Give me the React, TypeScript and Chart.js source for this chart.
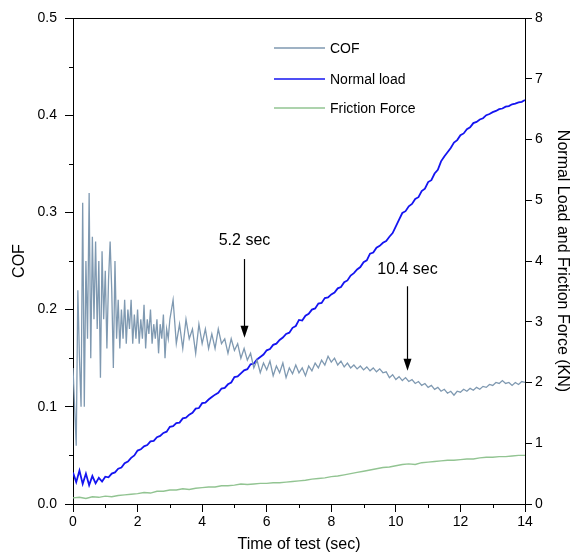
import React, { useEffect, useRef } from "react";
import { Chart, registerables } from "chart.js";

Chart.register(...registerables);

// ---- Data ----
// COF, 0.00 s to 2.95 s every 0.05 s
const cofEarlyStart = 0;
const cofEarlyStep = 0.05;
const cofEarly = [
  0.14, 0.10, 0.06, 0.22, 0.15, 0.10, 0.31, 0.10, 0.25, 0.17,
  0.32, 0.15, 0.275, 0.19, 0.27, 0.18, 0.25, 0.13, 0.26, 0.19,
  0.24, 0.16, 0.23, 0.27, 0.22, 0.14, 0.25, 0.17, 0.21, 0.16,
  0.20, 0.17, 0.21, 0.165, 0.20, 0.18, 0.21, 0.165, 0.195, 0.17,
  0.20, 0.165, 0.19, 0.17, 0.205, 0.16, 0.19, 0.175, 0.20, 0.165,
  0.185, 0.17, 0.19, 0.155, 0.185, 0.17, 0.195, 0.15, 0.18, 0.17,
];
// COF, 3.0 s to 14.0 s every 0.1 s
const cofLateStart = 3.0;
const cofLateStep = 0.1;
const cofLate = [
  0.19, 0.21, 0.165, 0.185, 0.16, 0.19, 0.17, 0.18, 0.155, 0.185,
  0.165, 0.18, 0.16, 0.175, 0.16, 0.18, 0.165, 0.17, 0.155, 0.17,
  0.158, 0.165, 0.15, 0.16, 0.148, 0.155, 0.14, 0.148, 0.135, 0.145,
  0.138, 0.147, 0.132, 0.142, 0.135, 0.145, 0.13, 0.14, 0.134, 0.143,
  0.135, 0.14, 0.132, 0.142, 0.137, 0.145, 0.14, 0.148, 0.143, 0.152,
  0.146, 0.15, 0.143, 0.147, 0.141, 0.145, 0.14, 0.143, 0.139, 0.142,
  0.138, 0.141, 0.137, 0.14, 0.136, 0.139, 0.135, 0.136, 0.13, 0.133,
  0.128, 0.131, 0.127, 0.13, 0.126, 0.128, 0.124, 0.126, 0.122, 0.124,
  0.12, 0.122, 0.118, 0.12, 0.116, 0.118, 0.114, 0.116, 0.112, 0.116,
  0.115, 0.118, 0.116, 0.119, 0.117, 0.12, 0.118, 0.121, 0.12, 0.123,
  0.122, 0.125, 0.124, 0.127, 0.124, 0.125, 0.122, 0.125, 0.123, 0.126,
  0.125,
];
// Normal load (KN), 0 s to 14 s every 0.1 s
const loadStart = 0;
const loadStep = 0.1;
const normalLoad = [
  0.52, 0.36, 0.55, 0.33, 0.5, 0.31, 0.46, 0.34, 0.43, 0.37, 0.45,
  0.44, 0.5, 0.52, 0.58, 0.6, 0.67, 0.7, 0.76, 0.8, 0.88,
  0.9, 0.95, 0.97, 1.03, 1.04, 1.1, 1.12, 1.17, 1.19, 1.27,
  1.28, 1.33, 1.34, 1.41, 1.42, 1.47, 1.5, 1.57, 1.58, 1.66,
  1.67, 1.72, 1.76, 1.8, 1.83, 1.9, 1.91, 1.97, 2.0, 2.09,
  2.1, 2.15, 2.2, 2.22, 2.3, 2.31, 2.38, 2.42, 2.46, 2.53,
  2.55, 2.62, 2.64, 2.7, 2.74, 2.8, 2.82, 2.9, 2.93, 3.03,
  3.02, 3.1, 3.13, 3.2, 3.22, 3.3, 3.31, 3.39, 3.4, 3.45,
  3.48, 3.55, 3.57, 3.65, 3.68, 3.76, 3.8, 3.86, 3.9, 3.98,
  4.01, 4.12, 4.14, 4.22, 4.25, 4.3, 4.33, 4.4, 4.46, 4.57,
  4.68, 4.79, 4.82, 4.9, 4.94, 5.02, 5.05, 5.15, 5.19, 5.3,
  5.33, 5.44, 5.5, 5.64, 5.72, 5.79, 5.86, 5.95, 5.99, 6.07,
  6.1, 6.17, 6.2, 6.27, 6.29, 6.33, 6.35, 6.4, 6.42, 6.45,
  6.47, 6.5, 6.51, 6.54, 6.55, 6.58, 6.59, 6.61, 6.62, 6.65,
];
// Friction force (KN), 0 s to 14 s every 0.2 s
const frictionStart = 0;
const frictionStep = 0.2;
const frictionForce = [
  0.10, 0.11, 0.09, 0.12, 0.11, 0.13, 0.12, 0.14, 0.15, 0.16,
  0.17, 0.19, 0.18, 0.21, 0.21, 0.23, 0.23, 0.25, 0.24, 0.26,
  0.27, 0.28, 0.28, 0.30, 0.30, 0.31, 0.33, 0.32, 0.33, 0.34,
  0.34, 0.35, 0.35, 0.36, 0.37, 0.38, 0.39, 0.41, 0.42, 0.43,
  0.45, 0.46, 0.48, 0.50, 0.52, 0.54, 0.56, 0.58, 0.60, 0.61,
  0.63, 0.65, 0.66, 0.65, 0.68, 0.69, 0.70, 0.71, 0.72, 0.72,
  0.73, 0.74, 0.74, 0.76, 0.77, 0.77, 0.78, 0.78, 0.79, 0.80,
  0.80,
];

const seriesLabels = ["COF", "Normal load", "Friction Force"];
const seriesColors = ["#7f99b1", "#1414f0", "#92c492"];
const xTicks = [0, 2, 4, 6, 8, 10, 12, 14];
const annotations = [
  { label: "5.2 sec", x: 5.3, textY: 0.2706, from: 0.252, to: 0.171 },
  { label: "10.4 sec", x: 10.35, textY: 0.2407, from: 0.224, to: 0.137 },
];

const FONT = "'Liberation Sans', Arial, Helvetica, sans-serif";

const toPoints = (start: number, step: number, vals: number[]) =>
  vals.map((v, i) => ({ x: +(start + i * step).toFixed(3), y: v }));

const decorPlugin = {
  id: "decor",
  afterDraw(chart: any) {
    const { ctx, chartArea, scales } = chart;
    const xs = scales.x;
    const yl = scales.y;
    ctx.save();
    // top frame line
    ctx.strokeStyle = "#000";
    ctx.lineWidth = 1;
    ctx.beginPath();
    ctx.moveTo(chartArea.left, Math.round(chartArea.top) + 0.5);
    ctx.lineTo(chartArea.right, Math.round(chartArea.top) + 0.5);
    ctx.stroke();
    // minor ticks
    ctx.beginPath();
    for (let v = 1; v < 14; v += 2) {
      const px = Math.round(xs.getPixelForValue(v)) + 0.5;
      ctx.moveTo(px, chartArea.bottom);
      ctx.lineTo(px, chartArea.bottom + 4);
    }
    for (let v = 0.05; v < 0.5; v += 0.1) {
      const py = Math.round(yl.getPixelForValue(v)) + 0.5;
      ctx.moveTo(chartArea.left, py);
      ctx.lineTo(chartArea.left - 4, py);
    }
    ctx.stroke();
    // legend
    const rows = [48, 79, 108];
    ctx.font = `14px ${FONT}`;
    ctx.textBaseline = "middle";
    ctx.textAlign = "left";
    seriesLabels.forEach((lab, i) => {
      ctx.strokeStyle = seriesColors[i];
      ctx.lineWidth = 1.3;
      ctx.beginPath();
      ctx.moveTo(274, rows[i]);
      ctx.lineTo(325, rows[i]);
      ctx.stroke();
      ctx.fillStyle = "#000";
      ctx.fillText(lab, 330, rows[i] + 1);
    });
    // annotations
    ctx.font = `16px ${FONT}`;
    ctx.textAlign = "center";
    annotations.forEach((a) => {
      const px = Math.round(xs.getPixelForValue(a.x)) + 0.5;
      const ty = yl.getPixelForValue(a.textY);
      ctx.fillStyle = "#000";
      ctx.fillText(a.label, px, ty);
      const y0 = yl.getPixelForValue(a.from);
      const y1 = yl.getPixelForValue(a.to);
      ctx.strokeStyle = "#000";
      ctx.lineWidth = 1.2;
      ctx.beginPath();
      ctx.moveTo(px, y0);
      ctx.lineTo(px, y1 - 10);
      ctx.stroke();
      ctx.beginPath();
      ctx.moveTo(px - 4, y1 - 12);
      ctx.lineTo(px + 4, y1 - 12);
      ctx.lineTo(px, y1);
      ctx.closePath();
      ctx.fill();
    });
    ctx.restore();
  },
};

export default function App() {
  const canvasRef = useRef<HTMLCanvasElement | null>(null);

  useEffect(() => {
    if (!canvasRef.current) return;
    const tickFont = { family: FONT, size: 14 };
    const titleFont = { family: FONT, size: 16 };
    const chart = new Chart(canvasRef.current, {
      type: "line",
      data: {
        datasets: [
          {
            label: seriesLabels[0],
            data: [...toPoints(cofEarlyStart, cofEarlyStep, cofEarly), ...toPoints(cofLateStart, cofLateStep, cofLate)],
            borderColor: seriesColors[0],
            borderWidth: 1.3,
            pointRadius: 0,
            tension: 0,
            yAxisID: "y",
          },
          {
            label: seriesLabels[1],
            data: toPoints(loadStart, loadStep, normalLoad),
            borderColor: seriesColors[1],
            borderWidth: 1.8,
            pointRadius: 0,
            tension: 0,
            yAxisID: "y2",
          },
          {
            label: seriesLabels[2],
            data: toPoints(frictionStart, frictionStep, frictionForce),
            borderColor: seriesColors[2],
            borderWidth: 1.4,
            pointRadius: 0,
            tension: 0,
            yAxisID: "y2",
          },
        ],
      },
      options: {
        animation: false,
        responsive: true,
        maintainAspectRatio: false,
        layout: { padding: { top: 18, left: 0, right: 0, bottom: 0 } },
        plugins: { legend: { display: false }, tooltip: { enabled: false } },
        scales: {
          x: {
            type: "linear",
            min: 0,
            max: 14,
            afterBuildTicks: (s: any) => {
              s.ticks = xTicks.map((v) => ({ value: v }));
            },
            afterFit: (s: any) => {
              s.height = 51;
            },
            ticks: { font: tickFont, color: "#000", padding: 2, maxRotation: 0 },
            grid: { drawOnChartArea: false, drawTicks: true, tickLength: 8, color: "#000" },
            border: { display: true, color: "#000", width: 1 },
            title: { display: true, text: "Time of test (sec)", font: titleFont, color: "#000", padding: { top: 0, bottom: 1 } },
          },
          y: {
            position: "left",
            min: 0,
            max: 0.5,
            ticks: { stepSize: 0.1, font: tickFont, color: "#000", padding: 8, callback: (v: any) => Number(v).toFixed(1) },
            afterFit: (s: any) => {
              s.width = 73;
            },
            grid: { drawOnChartArea: false, drawTicks: true, tickLength: 8, color: "#000" },
            border: { display: true, color: "#000", width: 1 },
            title: { display: true, text: "COF", font: titleFont, color: "#000", padding: { top: 10, bottom: 0 } },
          },
          y2: {
            position: "right",
            min: 0,
            max: 8,
            ticks: { stepSize: 1, font: tickFont, color: "#000", padding: 3 },
            afterFit: (s: any) => {
              s.width = 50;
            },
            grid: { drawOnChartArea: false, drawTicks: true, tickLength: 7, color: "#000" },
            border: { display: true, color: "#000", width: 1 },
            title: { display: true, text: "Normal Load and Friction Force (KN)", font: titleFont, color: "#000", padding: { top: 3, bottom: 0 } },
          },
        },
      },
      plugins: [decorPlugin],
    } as any);
    return () => chart.destroy();
  }, []);

  return (
    <div style={{ position: "absolute", left: 0, top: 0, width: 575, height: 555, background: "#fff" }}>
      <canvas ref={canvasRef} />
    </div>
  );
}
